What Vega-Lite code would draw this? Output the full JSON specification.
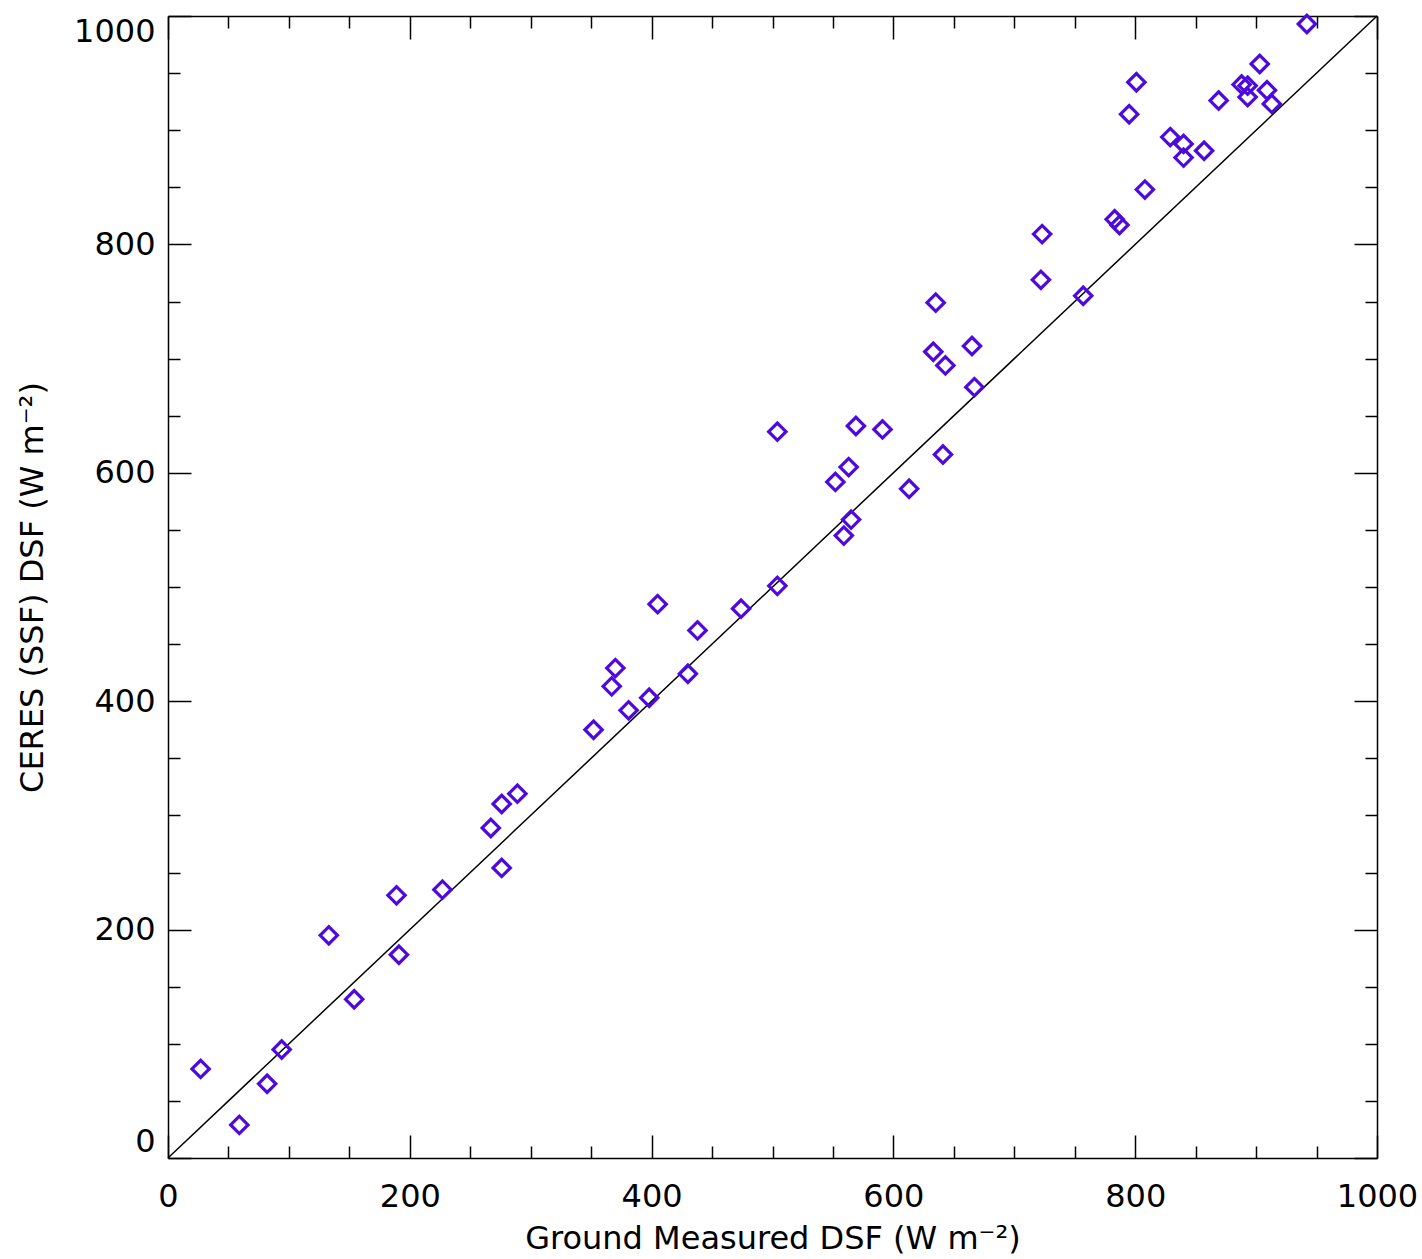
{
  "$schema": "https://vega.github.io/schema/vega-lite/v6.json",
  "autosize": {"type": "none"},
  "width": 1209,
  "height": 1142,
  "padding": {"left": 168, "top": 16, "right": 45, "bottom": 101},
  "background": "white",
  "config": {
    "view": {"stroke": null},
    "axis": {
      "grid": false,
      "values": [0, 50, 100, 150, 200, 250, 300, 350, 400, 450, 500, 550, 600, 650, 700, 750, 800, 850, 900, 950, 1000],
      "tickSize": {"condition": {"test": "datum.value % 200 === 0", "value": -23}, "value": -12},
      "labelExpr": "datum.value % 200 === 0 ? datum.label : ''",
      "format": "d",
      "labelOverlap": false,
      "domainColor": "black",
      "tickColor": "black",
      "domainWidth": 1.5,
      "tickWidth": 1.5,
      "labelFont": "DejaVu Sans",
      "labelFontSize": 32,
      "labelColor": "black",
      "titleFont": "DejaVu Sans",
      "titleFontSize": 32,
      "titleFontWeight": "normal",
      "titleColor": "black"
    }
  },
  "layer": [
    {
      "data": {"values": [{"gx": 0, "cy": 0, "gx2": 1000, "cy2": 1000}]},
      "mark": {"type": "rule", "color": "black", "strokeWidth": 1.5},
      "encoding": {
        "x": {"field": "gx", "type": "quantitative", "scale": {"domain": [0, 1000], "nice": false},
              "axis": {"orient": "top", "labels": false, "title": null}},
        "y": {"field": "cy", "type": "quantitative", "scale": {"domain": [0, 1000], "nice": false},
              "axis": {"orient": "right", "labels": false, "title": null}},
        "x2": {"field": "gx2"},
        "y2": {"field": "cy2"}
      }
    },
    {
      "data": {"values": [
        {"ground": 27, "ceres": 78}, {"ground": 59, "ceres": 29}, {"ground": 82, "ceres": 65}, {"ground": 94, "ceres": 95},
        {"ground": 133, "ceres": 195}, {"ground": 154, "ceres": 139}, {"ground": 189, "ceres": 230}, {"ground": 191, "ceres": 178},
        {"ground": 227, "ceres": 235}, {"ground": 267, "ceres": 289}, {"ground": 276, "ceres": 310}, {"ground": 276, "ceres": 254},
        {"ground": 289, "ceres": 319}, {"ground": 352, "ceres": 375}, {"ground": 367, "ceres": 413}, {"ground": 370, "ceres": 429},
        {"ground": 381, "ceres": 392}, {"ground": 398, "ceres": 403}, {"ground": 405, "ceres": 485}, {"ground": 430, "ceres": 424},
        {"ground": 438, "ceres": 462}, {"ground": 474, "ceres": 481}, {"ground": 504, "ceres": 501}, {"ground": 504, "ceres": 636},
        {"ground": 552, "ceres": 592}, {"ground": 563, "ceres": 605}, {"ground": 559, "ceres": 545}, {"ground": 565, "ceres": 559},
        {"ground": 569, "ceres": 641}, {"ground": 591, "ceres": 638}, {"ground": 613, "ceres": 586}, {"ground": 641, "ceres": 616},
        {"ground": 633, "ceres": 706}, {"ground": 635, "ceres": 749}, {"ground": 643, "ceres": 694}, {"ground": 665, "ceres": 711},
        {"ground": 667, "ceres": 675}, {"ground": 722, "ceres": 769}, {"ground": 723, "ceres": 809}, {"ground": 757, "ceres": 755},
        {"ground": 783, "ceres": 822}, {"ground": 787, "ceres": 817}, {"ground": 801, "ceres": 942}, {"ground": 795, "ceres": 914},
        {"ground": 808, "ceres": 848}, {"ground": 829, "ceres": 894}, {"ground": 840, "ceres": 888}, {"ground": 840, "ceres": 876},
        {"ground": 857, "ceres": 882}, {"ground": 869, "ceres": 926}, {"ground": 888, "ceres": 940}, {"ground": 893, "ceres": 939},
        {"ground": 893, "ceres": 929}, {"ground": 903, "ceres": 958}, {"ground": 909, "ceres": 935}, {"ground": 913, "ceres": 923},
        {"ground": 942, "ceres": 993}
      ]},
      "mark": {"type": "point", "shape": "diamond", "size": 300, "strokeWidth": 3.2, "color": "#4d0ade", "filled": false, "opacity": 1},
      "encoding": {
        "x": {"field": "ground", "type": "quantitative", "scale": {"domain": [0, 1000], "nice": false},
              "axis": {"orient": "bottom", "title": "Ground Measured DSF (W m⁻²)", "labelFlush": false, "labelPadding": 46, "titlePadding": 0}},
        "y": {"field": "ceres", "type": "quantitative", "scale": {"domain": [0, 1000], "nice": false},
              "axis": {"orient": "left", "title": "CERES (SSF) DSF (W m⁻²)", "labelFlush": true, "labelPadding": 36, "titlePadding": 24}}
      }
    }
  ],
  "resolve": {"scale": {"x": "independent", "y": "independent"}, "axis": {"x": "independent", "y": "independent"}}
}
